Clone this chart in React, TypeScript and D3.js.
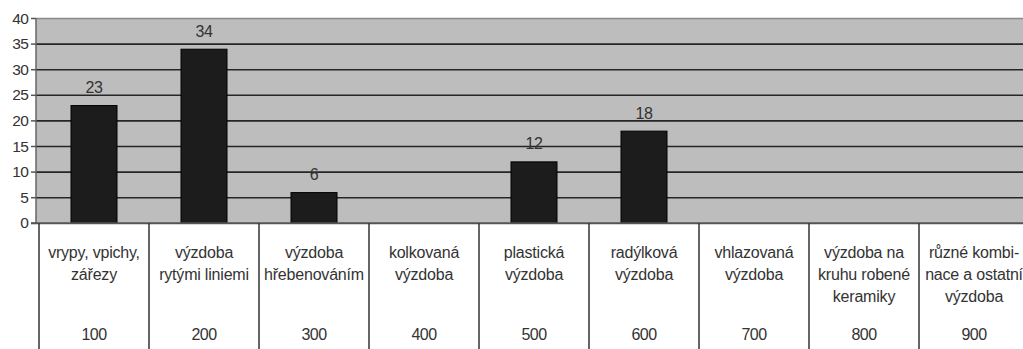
import React from "react";
import * as d3 from "d3";

const categories = ["100", "200", "300", "400", "500", "600", "700", "800", "900"];
const categoryNames: string[][] = [
  ["vrypy, vpichy,", "zářezy"],
  ["výzdoba", "rytými liniemi"],
  ["výzdoba", "hřebenováním"],
  ["kolkovaná", "výzdoba"],
  ["plastická", "výzdoba"],
  ["radýlková", "výzdoba"],
  ["vhlazovaná", "výzdoba"],
  ["výzdoba na", "kruhu robené", "keramiky"],
  ["různé kombi-", "nace a ostatní", "výzdoba"],
];
const values = [23, 34, 6, 0, 12, 18, 0, 0, 0];
const yTicks = [0, 5, 10, 15, 20, 25, 30, 35, 40];

const W = 1023;
const H = 349;
const axisX = 36;
const bandLeft = 39;
const bandW = 110;
const y0 = 223.3;
const y40 = 18.5;

export default function App() {
  const x = d3
    .scaleBand<string>()
    .domain(categories)
    .range([bandLeft, bandLeft + bandW * categories.length])
    .paddingInner(0)
    .paddingOuter(0);
  const y = d3.scaleLinear().domain([0, 40]).range([y0, y40]);
  const barW = 46;
  const font = "'Liberation Sans', Arial, sans-serif";

  return (
    <svg
      width={W}
      height={H}
      style={{ position: "absolute", left: 0, top: 0, background: "#fff" }}
      fontFamily={font}
    >
      <rect x={axisX} y={y(40)} width={W - axisX} height={y(0) - y(40)} fill="#bdbdbd" />
      <line x1={axisX} x2={W} y1={y(40)} y2={y(40)} stroke="#8a8a8a" strokeWidth={1.5} />
      {yTicks
        .filter((t) => t > 0 && t < 40)
        .map((t) => (
          <line key={t} x1={axisX} x2={W} y1={y(t)} y2={y(t)} stroke="#262626" strokeWidth={1.6} />
        ))}
      {values.map((v, i) =>
        v > 0 ? (
          <rect
            key={i}
            x={(x(categories[i]) as number) + x.bandwidth() / 2 - barW / 2}
            y={y(v)}
            width={barW}
            height={y(0) - y(v)}
            fill="#1c1c1c"
            stroke="#000"
            strokeWidth={1}
          />
        ) : null
      )}
      {values.map((v, i) =>
        v > 0 ? (
          <text
            key={i}
            x={(x(categories[i]) as number) + x.bandwidth() / 2}
            y={y(v) - 12.5}
            textAnchor="middle"
            fontSize={16}
            fill="#333"
            letterSpacing={-0.3}
          >
            {v}
          </text>
        ) : null
      )}
      <line x1={axisX} x2={axisX} y1={y(40)} y2={y(0)} stroke="#666" strokeWidth={1.5} />
      {yTicks.map((t) => (
        <g key={t}>
          <line x1={axisX - 5} x2={axisX} y1={y(t)} y2={y(t)} stroke="#555" strokeWidth={1.5} />
          <text
            x={28}
            y={y(t) + 5}
            textAnchor="end"
            fontSize={15.5}
            fill="#333"
            letterSpacing={-0.8}
          >
            {t}
          </text>
        </g>
      ))}
      <line x1={axisX - 5} x2={W} y1={y(0)} y2={y(0)} stroke="#555" strokeWidth={2} />
      {categories.map((c, i) => {
        const left = x(c) as number;
        const cx = left + x.bandwidth() / 2;
        return (
          <g key={c}>
            <line x1={left} x2={left} y1={y(0)} y2={H} stroke="#333" strokeWidth={1.5} />
            {categoryNames[i].map((ln, j) => (
              <text
                key={j}
                x={cx}
                y={258 + j * 22}
                textAnchor="middle"
                fontSize={16}
                fill="#333"
                letterSpacing={-0.2}
              >
                {ln}
              </text>
            ))}
            <text x={cx} y={340} textAnchor="middle" fontSize={16} fill="#333" letterSpacing={-0.6}>
              {c}
            </text>
          </g>
        );
      })}
    </svg>
  );
}
